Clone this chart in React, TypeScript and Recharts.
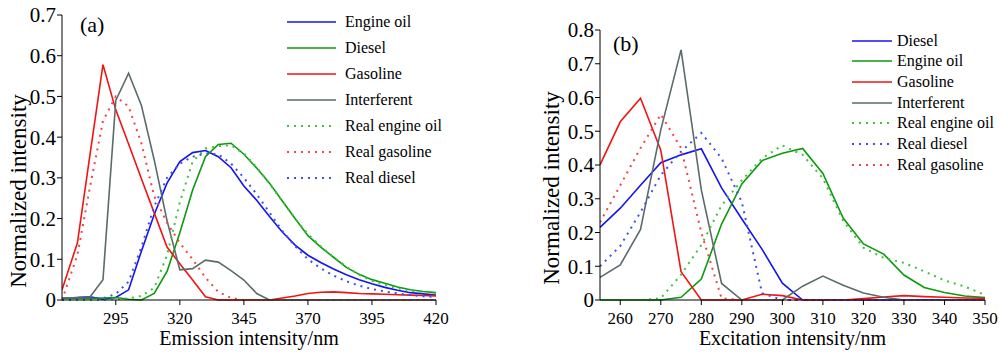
import React from "react";
import { LineChart, Line, XAxis, YAxis, Legend } from "recharts";

const FONT = '"Liberation Serif", "Times New Roman", serif';

const BLUE = "#1414f0";
const GREEN = "#0c9a0c";
const RED = "#f01414";
const GREY = "#5b6b6b";
const DOT_GREEN = "#40c040";
const DOT_RED = "#f04444";
const DOT_BLUE = "#4050ee";

// (a) emission spectra
const EM_NM = [274, 280, 285, 290, 295, 300, 305, 310, 315, 320, 325, 330, 335, 340, 345, 350, 355, 360, 365, 370, 375, 380, 385, 390, 395, 400, 405, 410, 415, 420];
const EM_ENGINE_OIL = [0.004, 0.006, 0.008, 0.002, 0.006, 0.025, 0.12, 0.21, 0.287, 0.34, 0.362, 0.367, 0.352, 0.325, 0.28, 0.245, 0.205, 0.167, 0.135, 0.11, 0.092, 0.076, 0.062, 0.05, 0.04, 0.031, 0.024, 0.018, 0.015, 0.012];
const EM_DIESEL = [0.004, 0.004, 0.004, 0.005, 0.006, 0.002, 0, 0.016, 0.07, 0.165, 0.27, 0.352, 0.382, 0.385, 0.358, 0.324, 0.287, 0.243, 0.2, 0.158, 0.13, 0.105, 0.08, 0.063, 0.05, 0.041, 0.032, 0.025, 0.021, 0.018];
const EM_GASOLINE = [0.025, 0.14, 0.36, 0.578, 0.467, 0.383, 0.298, 0.214, 0.13, 0.089, 0.049, 0.008, 0, 0, 0, 0, 0, 0.005, 0.01, 0.016, 0.019, 0.02, 0.018, 0.016, 0.015, 0.014, 0.013, 0.012, 0.011, 0.01];
const EM_INTERFERENT = [0.005, 0.006, 0.008, 0.05, 0.49, 0.557, 0.478, 0.344, 0.195, 0.074, 0.077, 0.098, 0.093, 0.072, 0.049, 0.016, 0, 0, 0, 0, 0, 0, 0, 0, 0, 0, 0, 0, 0, 0];
const EM_REAL_ENGINE_OIL = [0, 0, 0, 0, 0.002, 0.004, 0.01, 0.03, 0.11, 0.24, 0.34, 0.372, 0.378, 0.38, 0.36, 0.326, 0.286, 0.243, 0.2, 0.162, 0.132, 0.105, 0.082, 0.062, 0.047, 0.037, 0.029, 0.023, 0.019, 0.016];
const EM_REAL_GASOLINE = [0, 0.11, 0.28, 0.44, 0.5, 0.475, 0.385, 0.255, 0.19, 0.14, 0.1, 0.055, 0.02, 0.005, 0, 0, 0, 0, 0, 0, 0, 0, 0, 0, 0, 0, 0, 0, 0, 0];
const EM_REAL_DIESEL = [0, 0.003, 0.004, 0.004, 0.015, 0.045, 0.13, 0.23, 0.3, 0.335, 0.352, 0.36, 0.358, 0.335, 0.3, 0.26, 0.215, 0.17, 0.132, 0.1, 0.078, 0.06, 0.046, 0.035, 0.027, 0.021, 0.016, 0.012, 0.009, 0.007];
const EM_TICKS = [295, 320, 345, 370, 395, 420];
const EM_Y_TICKS = [0, 0.1, 0.2, 0.3, 0.4, 0.5, 0.6, 0.7];

// (b) excitation spectra
const EX_NM = [255, 260, 265, 270, 275, 280, 285, 290, 295, 300, 305, 310, 315, 320, 325, 330, 335, 340, 345, 350];
const EX_DIESEL = [0.215, 0.272, 0.34, 0.407, 0.43, 0.448, 0.332, 0.24, 0.15, 0.05, 0, 0, 0, 0, 0, 0, 0, 0, 0, 0];
const EX_ENGINE_OIL = [0, 0, 0, 0, 0.008, 0.062, 0.225, 0.344, 0.413, 0.435, 0.449, 0.375, 0.243, 0.166, 0.136, 0.074, 0.037, 0.022, 0.012, 0.007];
const EX_GASOLINE = [0.4, 0.528, 0.598, 0.444, 0.084, 0, 0, 0, 0.017, 0.013, 0, 0, 0, 0.004, 0.009, 0.013, 0.01, 0.008, 0.006, 0.005];
const EX_INTERFERENT = [0.067, 0.104, 0.209, 0.504, 0.741, 0.326, 0.049, 0, 0, 0, 0.041, 0.071, 0.044, 0.021, 0.008, 0, 0, 0, 0, 0];
const EX_REAL_ENGINE_OIL = [0, 0, 0, 0.005, 0.075, 0.163, 0.28, 0.355, 0.42, 0.458, 0.43, 0.36, 0.235, 0.155, 0.125, 0.11, 0.085, 0.058, 0.04, 0.015];
const EX_REAL_DIESEL = [0.1, 0.16, 0.26, 0.37, 0.44, 0.495, 0.42, 0.29, 0.02, 0, 0, 0, 0, 0, 0, 0, 0, 0, 0, 0];
const EX_REAL_GASOLINE = [0.23, 0.34, 0.45, 0.55, 0.45, 0.2, 0.005, 0, 0, 0, 0, 0, 0, 0, 0, 0, 0, 0, 0, 0];
const EX_TICKS = [260, 270, 280, 290, 300, 310, 320, 330, 340, 350];
const EX_Y_TICKS = [0, 0.1, 0.2, 0.3, 0.4, 0.5, 0.6, 0.7, 0.8];

const emData = EM_NM.map((nm, i) => ({
  nm,
  engineOil: EM_ENGINE_OIL[i],
  diesel: EM_DIESEL[i],
  gasoline: EM_GASOLINE[i],
  interferent: EM_INTERFERENT[i],
  realEngineOil: EM_REAL_ENGINE_OIL[i],
  realGasoline: EM_REAL_GASOLINE[i],
  realDiesel: EM_REAL_DIESEL[i],
}));

const exData = EX_NM.map((nm, i) => ({
  nm,
  diesel: EX_DIESEL[i],
  engineOil: EX_ENGINE_OIL[i],
  gasoline: EX_GASOLINE[i],
  interferent: EX_INTERFERENT[i],
  realEngineOil: EX_REAL_ENGINE_OIL[i],
  realDiesel: EX_REAL_DIESEL[i],
  realGasoline: EX_REAL_GASOLINE[i],
}));

type Series = { key: string; name: string; color: string; dotted?: boolean };

const EM_SERIES: Series[] = [
  { key: "engineOil", name: "Engine oil", color: BLUE },
  { key: "diesel", name: "Diesel", color: GREEN },
  { key: "gasoline", name: "Gasoline", color: RED },
  { key: "interferent", name: "Interferent", color: GREY },
  { key: "realEngineOil", name: "Real engine oil", color: DOT_GREEN, dotted: true },
  { key: "realGasoline", name: "Real gasoline", color: DOT_RED, dotted: true },
  { key: "realDiesel", name: "Real diesel", color: DOT_BLUE, dotted: true },
];

const EX_SERIES: Series[] = [
  { key: "diesel", name: "Diesel", color: BLUE },
  { key: "engineOil", name: "Engine oil", color: GREEN },
  { key: "gasoline", name: "Gasoline", color: RED },
  { key: "interferent", name: "Interferent", color: GREY },
  { key: "realEngineOil", name: "Real engine oil", color: DOT_GREEN, dotted: true },
  { key: "realDiesel", name: "Real diesel", color: DOT_BLUE, dotted: true },
  { key: "realGasoline", name: "Real gasoline", color: DOT_RED, dotted: true },
];

const DASH = "2 5";

function makeLegend(series: Series[], lineW: number, rowH: number, gap: number) {
  return () => (
    <div style={{ fontFamily: FONT }}>
      {series.map((s) => (
        <div key={s.key} style={{ display: "flex", alignItems: "center", height: rowH }}>
          <svg width={lineW} height={6} style={{ display: "block" }}>
            <line
              x1={0}
              y1={3}
              x2={lineW}
              y2={3}
              stroke={s.color}
              strokeWidth={s.dotted ? 2 : 1.6}
              strokeDasharray={s.dotted ? DASH : undefined}
            />
          </svg>
          <span style={{ marginLeft: gap, fontSize: 16, lineHeight: 1, whiteSpace: "nowrap", color: "#000" }}>
            {s.name}
          </span>
        </div>
      ))}
    </div>
  );
}

function YTitle(props: { tx: number; ty: number; panel: string; px: number; py: number }) {
  const { tx, ty, panel, px, py } = props;
  return (
    <g>
      <text
        x={tx}
        y={ty}
        transform={`rotate(-90 ${tx} ${ty})`}
        textAnchor="middle"
        fontSize={23}
        fontFamily={FONT}
        fill="#000"
      >
        Normalized intensity
      </text>
      <text x={px} y={py} fontSize={22} fontFamily={FONT} fill="#000">
        {panel}
      </text>
    </g>
  );
}

const axisTick = { fontSize: 17, fill: "#000", fontFamily: FONT };
const yTick = { fontSize: 21, fill: "#000", fontFamily: FONT };

function Panel(props: {
  data: any[];
  series: Series[];
  width: number;
  margin: { top: number; right: number; left: number; bottom: number };
  yWidth: number;
  xDomain: [number, number];
  xTicks: number[];
  yDomain: [number, number];
  yTicks: number[];
  xTitle: string;
  title: React.ReactElement;
  legendPos: { left: number; top: number };
  legend: () => React.ReactElement;
}) {
  const p = props;
  return (
    <LineChart width={p.width} height={355} data={p.data} margin={p.margin}>
      <XAxis
        dataKey="nm"
        type="number"
        domain={p.xDomain}
        ticks={p.xTicks}
        interval={0}
        allowDataOverflow
        height={55}
        tickSize={5}
        tickMargin={7}
        tick={axisTick}
        stroke="#000"
        label={{ value: p.xTitle, position: "insideBottom", offset: 10, fill: "#000", fontSize: 20, fontFamily: FONT }}
      />
      <YAxis
        type="number"
        domain={p.yDomain}
        ticks={p.yTicks}
        interval={0}
        width={p.yWidth}
        tickSize={5}
        tickMargin={1}
        tick={yTick}
        stroke="#000"
        label={p.title}
      />
      <Legend
        layout="vertical"
        align="center"
        verticalAlign="middle"
        content={p.legend}
        wrapperStyle={{ left: p.legendPos.left, top: p.legendPos.top, width: 200, margin: 0, padding: 0 }}
      />
      {p.series.map((s) => (
        <Line
          key={s.key}
          dataKey={s.key}
          name={s.name}
          type="linear"
          stroke={s.color}
          strokeWidth={s.dotted ? 2 : 1.6}
          strokeDasharray={s.dotted ? DASH : undefined}
          dot={false}
          activeDot={false}
          isAnimationActive={false}
        />
      ))}
    </LineChart>
  );
}

export default function App() {
  return (
    <div
      style={{
        position: "absolute",
        left: 0,
        top: 0,
        width: 1000,
        height: 355,
        background: "#fff",
        fontFamily: FONT,
        overflow: "hidden",
      }}
    >
      <div style={{ position: "absolute", left: 0, top: 0 }}>
        <Panel
          data={emData}
          series={EM_SERIES}
          width={450}
          margin={{ top: 15, right: 14, left: 0, bottom: 0 }}
          yWidth={62}
          xDomain={[274, 420]}
          xTicks={EM_TICKS}
          yDomain={[0, 0.7]}
          yTicks={EM_Y_TICKS}
          xTitle="Emission intensity/nm"
          title={<YTitle tx={26} ty={191} panel="(a)" px={80} py={32} />}
          legendPos={{ left: 287, top: 8.7 }}
          legend={makeLegend(EM_SERIES, 49, 26, 9)}
        />
      </div>
      <div style={{ position: "absolute", left: 500, top: 0 }}>
        <Panel
          data={exData}
          series={EX_SERIES}
          width={500}
          margin={{ top: 30, right: 15, left: 0, bottom: 0 }}
          yWidth={100}
          xDomain={[255, 350]}
          xTicks={EX_TICKS}
          yDomain={[0, 0.8]}
          yTicks={EX_Y_TICKS}
          xTitle="Excitation intensity/nm"
          title={<YTitle tx={59} ty={188} panel="(b)" px={113} py={51} />}
          legendPos={{ left: 352, top: 30.4 }}
          legend={makeLegend(EX_SERIES, 40, 20.7, 5)}
        />
      </div>
    </div>
  );
}
